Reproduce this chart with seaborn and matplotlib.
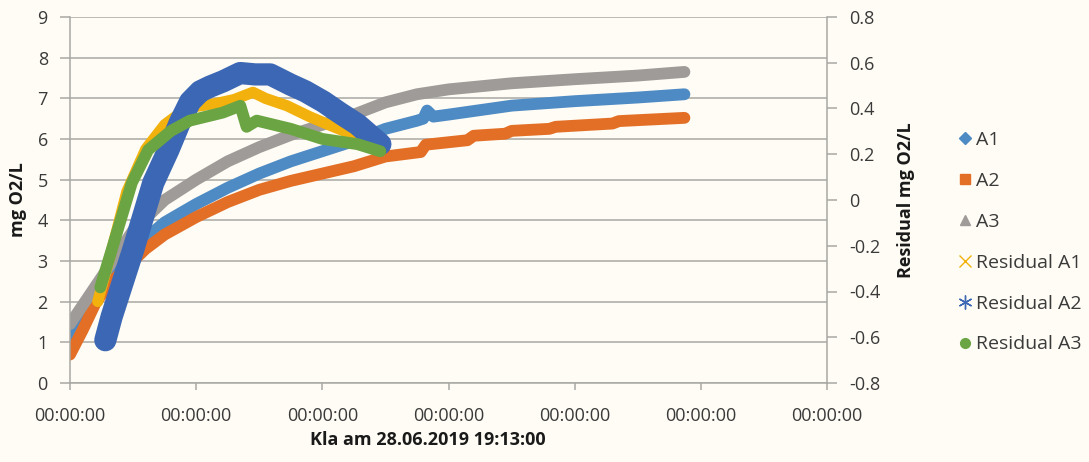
import matplotlib
matplotlib.use("Agg")
import matplotlib.pyplot as plt
from matplotlib.lines import Line2D
import seaborn as sns
import pandas as pd

# ---------------- data (x in axis units, ticks every 1.0) ----------------
a1_x = [0.0, 0.25, 0.5, 0.75, 1.0, 1.25, 1.5, 1.75, 2.0, 2.25, 2.5, 2.75, 2.8, 2.83, 2.88, 3.0, 3.5, 4.0, 4.5, 4.87]
a1_y = [1.15, 2.35, 3.3, 3.95, 4.4, 4.8, 5.15, 5.45, 5.7, 5.95, 6.25, 6.45, 6.5, 6.7, 6.55, 6.6, 6.82, 6.93, 7.02, 7.1]

a2_x = [0.0, 0.1, 0.2, 0.3, 0.45, 0.6, 0.75, 1.0, 1.25, 1.5, 1.75, 2.0, 2.25, 2.5, 2.78, 2.82, 3.15, 3.2,
        3.45, 3.5, 3.8, 3.85, 4.3, 4.35, 4.87]
a2_y = [0.7, 1.3, 1.95, 2.4, 2.85, 3.3, 3.65, 4.08, 4.45, 4.75, 4.97, 5.15, 5.33, 5.57, 5.68, 5.86, 5.97, 6.08,
        6.13, 6.2, 6.25, 6.3, 6.38, 6.44, 6.52]

a3_x = [0.0, 0.25, 0.5, 0.75, 1.0, 1.25, 1.5, 1.75, 2.0, 2.25, 2.5, 2.75, 3.0, 3.5, 4.0, 4.5, 4.87]
a3_y = [1.45, 2.6, 3.75, 4.5, 5.0, 5.45, 5.8, 6.1, 6.35, 6.6, 6.9, 7.1, 7.22, 7.37, 7.47, 7.56, 7.65]

res_a1_x = [0.22, 0.35, 0.45, 0.6, 0.75, 0.9, 1.0, 1.15, 1.3, 1.45, 1.55, 1.72, 1.9, 2.05, 2.25, 2.46]
res_a1_y = [-0.444, -0.178, 0.036, 0.222, 0.329, 0.391, 0.409, 0.421, 0.439, 0.471, 0.444, 0.412, 0.364, 0.329,
            0.284, 0.263]

res_a2_x = [0.28, 0.33, 0.5, 0.66, 0.78, 0.87, 0.952, 1.032, 1.111, 1.214, 1.349, 1.468, 1.587, 1.746, 1.865,
            2.008, 2.143, 2.278, 2.46]
res_a2_y = [-0.613, -0.51, -0.219, 0.075, 0.219, 0.338, 0.43, 0.475, 0.496, 0.519, 0.555, 0.549, 0.549, 0.505,
            0.475, 0.43, 0.379, 0.331, 0.244]

res_a3_x = [0.24, 0.33, 0.49, 0.62, 0.8, 0.95, 1.21, 1.35, 1.4, 1.48, 1.75, 2.0, 2.28, 2.46]
res_a3_y = [-0.382, -0.219, 0.075, 0.219, 0.302, 0.347, 0.382, 0.412, 0.32, 0.347, 0.311, 0.267, 0.244, 0.213]

x_ticks = [0, 1, 2, 3, 4, 5, 6]
x_tick_labels = ["00:00:00"] * 7
left_ticks = [0, 1, 2, 3, 4, 5, 6, 7, 8, 9]
right_ticks = [-0.8, -0.6, -0.4, -0.2, 0.0, 0.2, 0.4, 0.6, 0.8]
right_tick_labels = ["-0.8", "-0.6", "-0.4", "-0.2", "0", "0.2", "0.4", "0.6", "0.8"]

series_names = ["A1", "A2", "A3", "Residual A1", "Residual A2", "Residual A3"]
colors = ["#4E8BC5", "#E36F26", "#9E9B98", "#F2B10C", "#3C67B4", "#6BA543"]

# ---------------- style ----------------
sns.set_theme(style="white")
plt.rcParams["font.family"] = ["Open Sans", "DejaVu Sans"]
bg = "#FEFCF4"
grid_c = "#A8A8A4"
txt_c = "#3A3A3A"

fig = plt.figure(figsize=(10.89, 4.62), dpi=100, facecolor=bg)
ax = fig.add_axes([70 / 1089, 1 - 383 / 462, 757 / 1089, 366 / 462])
ax.set_facecolor(bg)
ax2 = ax.twinx()

lw_main = 8.5
for xs, ys, c in [(a1_x, a1_y, colors[0]), (a2_x, a2_y, colors[1]), (a3_x, a3_y, colors[2])]:
    df = pd.DataFrame({"x": xs, "y": ys})
    sns.lineplot(data=df, x="x", y="y", ax=ax, color=c, linewidth=lw_main,
                 solid_capstyle="round", solid_joinstyle="round")

for xs, ys, c, lw in [(res_a1_x, res_a1_y, colors[3], 8.0), (res_a2_x, res_a2_y, colors[4], 16.0),
                      (res_a3_x, res_a3_y, colors[5], 8.5)]:
    df = pd.DataFrame({"x": xs, "y": ys})
    sns.lineplot(data=df, x="x", y="y", ax=ax2, color=c, linewidth=lw,
                 solid_capstyle="round", solid_joinstyle="round")

ax.set_xlim(0, 6)
ax.set_ylim(0, 9)
ax2.set_ylim(-0.8, 0.8)

ax.set_xticks(x_ticks)
ax.set_xticklabels(x_tick_labels)
ax.set_yticks(left_ticks)
ax2.set_yticks(right_ticks)
ax2.set_yticklabels(right_tick_labels)

ax.yaxis.grid(True, color=grid_c, linewidth=1.1)
ax.xaxis.grid(False)
ax.set_axisbelow(True)

for a in (ax, ax2):
    for s in a.spines.values():
        s.set_color(grid_c)
        s.set_linewidth(1.1)
    a.spines["top"].set_visible(False)
ax.spines["right"].set_visible(False)
ax2.spines["left"].set_visible(False)
ax2.spines["bottom"].set_visible(False)

ax.tick_params(axis="x", direction="out", length=5, width=1.1, color=grid_c, pad=12,
               labelsize=13, labelcolor=txt_c, bottom=True)
ax.tick_params(axis="y", direction="out", length=7, width=1.1, color=grid_c, pad=9,
               labelsize=13, labelcolor=txt_c, left=True)
ax2.tick_params(axis="y", direction="out", length=7, width=1.1, color=grid_c, pad=9,
                labelsize=13, labelcolor=txt_c, right=True)

ax.set_xlabel("Kla am 28.06.2019 19:13:00", fontsize=13, fontweight="bold", color="#1A1A1A")
ax.set_ylabel("mg O2/L", fontsize=13, fontweight="bold", color="#1A1A1A")
ax2.set_ylabel("Residual mg O2/L", fontsize=13, fontweight="bold", color="#1A1A1A")
ax.xaxis.set_label_coords((428 - 70) / 757, -0.13)
ax.yaxis.set_label_coords(-0.057, 0.5)
ax2.yaxis.set_label_coords(1.092, 0.5)

markers = ["D", "s", "^", "x", (6, 2, 0), "o"]
msizes = [6, 7, 7, 9, 10, 7]
handles = []
for name, c, m, ms in zip(series_names, colors, markers, msizes):
    handles.append(Line2D([], [], linestyle="none", marker=m, markersize=ms, color=c,
                          markeredgecolor=c, markeredgewidth=1.0, label=name))
fig.legend(handles=handles, loc="upper left", bbox_to_anchor=(949.5 / 1089, 1 - 123 / 462),
           frameon=False, fontsize=14, handlelength=0.8, handletextpad=0.15,
           labelspacing=1.18, labelcolor=txt_c, borderaxespad=0)

fig.savefig("out.png", dpi=100, facecolor=bg)
